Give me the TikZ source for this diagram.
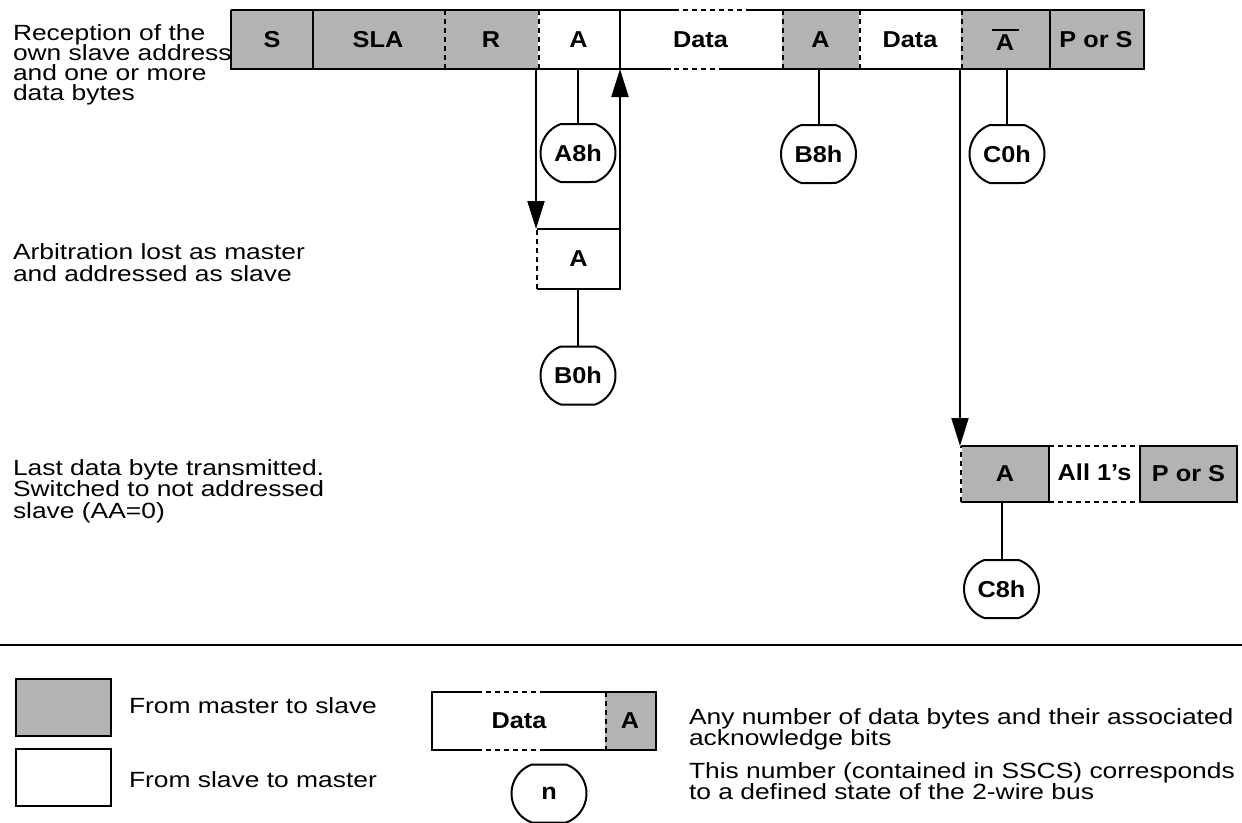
\documentclass[tikz,border=0pt]{standalone}
\usepackage{fontspec}
\setmainfont{Liberation Sans}[FakeStretch=1.2,BoldFeatures={FakeStretch=1.1}]
\usetikzlibrary{arrows.meta,shapes.misc}
\definecolor{boxgray}{RGB}{179,179,179}
\newcommand\myLbl{\fontsize{23}{26}\selectfont\bfseries}
\newcommand\myTxt{\fontsize{22}{20}\selectfont\lineskiplimit=-30pt\relax}
\newcommand\myTxtW{\fontsize{22}{21.5}\selectfont\lineskiplimit=-30pt\relax}
\newcommand\myAbar{\vbox{\hrule width 27pt height 2pt\vskip 3.5pt\hbox to 27pt{\hss A\hss}}}
\begin{document}
\begin{tikzpicture}[x=1pt,y=-1pt,line width=2pt,
  cell/.style={rectangle,inner sep=0pt,minimum height=57pt,font=\myLbl},
  gcell/.style={cell,fill=boxgray},
  stad/.style={rounded rectangle,rounded rectangle arc length=140,draw,minimum width=75pt,minimum height=58pt,inner sep=0pt,font=\myLbl},
  txt/.style={inner sep=0pt,font=\myTxt,anchor=base west},
  dsh/.style={dash pattern=on 5pt off 4pt},
  arr/.style={-{Triangle[length=28pt,width=17pt]}}]
\useasboundingbox (0,0) rectangle (1242,822);

% top row
\node[gcell,minimum width=80pt] (s) at (272,39.5) {S};
\node[gcell,minimum width=132pt] (sla) at (378,39.5) {SLA};
\node[gcell,minimum width=94pt] (r) at (491,39.5) {R};
\node[cell,minimum width=81pt] (a1) at (578.5,39.5) {A};
\node[cell,minimum width=163pt] (d1) at (700.5,39.5) {Data};
\node[gcell,minimum width=77pt] (a2) at (820.5,39.5) {A};
\node[cell,minimum width=102pt] (d2) at (910,39.5) {Data};
\node[gcell,minimum width=88pt] (ab) at (1005,39.5) {\myAbar};
\node[gcell,minimum width=94pt] (ps1) at (1096,39.5) {P or S};

\draw (s.north west) -- ([xshift=56pt]d1.north west);
\draw[dsh] ([xshift=56pt]d1.north west) -- ([xshift=-35pt]d1.north east);
\draw ([xshift=-35pt]d1.north east) -- (ps1.north east) -- (ps1.south east) -- ([xshift=-59pt]d1.south east);
\draw[dsh] ([xshift=-59pt]d1.south east) -- ([xshift=53pt]d1.south west);
\draw ([xshift=53pt]d1.south west) -- (s.south west) -- (s.north west);
\draw (s.north east) -- (s.south east);
\draw (a1.north east) -- (a1.south east);
\draw (ab.north east) -- (ab.south east);
\draw[dsh] (sla.north east) -- (sla.south east);
\draw[dsh] (r.north east) -- (r.south east);
\draw[dsh] (d1.north east) -- (d1.south east);
\draw[dsh] (a2.north east) -- (a2.south east);
\draw[dsh] (d2.north east) -- (d2.south east);

% status bubbles of top row
\node[stad] (e1) at (578,153) {A8h};
\node[stad] (e3) at (818.5,154) {B8h};
\node[stad] (e4) at (1007,154) {C0h};
\draw (e1.north) -- (e1.north |- a1.south);
\draw (e3.north) -- (e3.north |- a2.south);
\draw (e4.north) -- (e4.north |- ab.south);

% arbitration lost
\node[cell,minimum width=81pt,minimum height=58pt] (la) at (578.5,259) {A};
\draw (la.north west) -- (la.north east) -- (la.south east) -- (la.south west);
\draw[dsh] (la.south west) -- (la.north west);
\draw[arr] ([xshift=-1pt]a1.south west) -- ([xshift=-1pt]la.north west);
\draw[arr] (la.south east) -- (a1.south east);
\node[stad] (e2) at (578,375.5) {B0h};
\draw (e2.north) -- (e2.north |- la.south);

% last byte
\node[gcell,minimum width=86pt,minimum height=54pt] (a3) at (1005,474) {A};
\node[cell,minimum width=93pt,minimum height=54pt] (all) at (1094.5,472) {All 1’s};
\node[gcell,minimum width=95pt,minimum height=54pt] (ps2) at (1188.5,474) {P or S};
\draw (a3.north west) -- (a3.north east) -- (a3.south east) -- (a3.south west);
\draw[dsh] (a3.south west) -- (a3.north west);
\draw[dsh] (a3.north east) -- (ps2.north west);
\draw[dsh] (a3.south east) -- (ps2.south west);
\draw (ps2.north west) rectangle (ps2.south east);
\draw[arr] (ab.south west) -- (ab.south west |- a3.north);
\node[stad] (e5) at (1001.5,589) {C8h};
\draw (e5.north) -- (e5.north |- a3.south);

% left descriptions
\node[txt] (l1) at (12,40) {\vtop{\hbox{Reception of the}\hbox{own slave address}\hbox{and one or more}\hbox{data bytes}}};
\node[txt,font=\myTxtW] (l2) at (12,259.5) {\vtop{\hbox{Arbitration lost as master}\hbox{and addressed as slave}}};
\node[txt,font=\myTxtW] (l3) at (12,475) {\vtop{\hbox{Last data byte transmitted.}\hbox{Switched to not addressed}\hbox{slave (AA=0)}}};

% separator
\coordinate (sepL) at (0,645);
\coordinate (sepR) at (1242,645);
\draw (sepL) -- (sepR);

% legend
\node[gcell,draw,minimum width=95pt] (lg1) at (63.5,707.5) {};
\node[cell,draw,minimum width=95pt] (lg2) at (63.5,777.5) {};
\node[txt] (t1) at (128,713) {From master to slave};
\node[txt] (t2) at (128,787) {From slave to master};

\node[cell,minimum width=172pt,minimum height=56pt] (ld) at (519,721) {Data};
\node[gcell,minimum width=50pt,minimum height=56pt] (lda) at (630,721) {A};
\draw ([xshift=45pt]ld.north west) -- (ld.north west) -- (ld.south west) -- ([xshift=45pt]ld.south west);
\draw[dsh] ([xshift=45pt]ld.north west) -- ([xshift=112pt]ld.north west);
\draw[dsh] ([xshift=45pt]ld.south west) -- ([xshift=112pt]ld.south west);
\draw ([xshift=112pt]ld.north west) -- (lda.north east) -- (lda.south east) -- ([xshift=112pt]ld.south west);
\draw[dsh] (ld.north east) -- (ld.south east);
\node[stad] (en) at (549,793.5) {n};

\node[txt,font=\myTxtW] (t3) at (688,724) {\vtop{\hbox{Any number of data bytes and their associated}\hbox{acknowledge bits}}};
\node[txt,font=\myTxtW] (t4) at (688,778) {\vtop{\hbox{This number (contained in SSCS) corresponds}\hbox{to a defined state of the 2-wire bus}}};
\end{tikzpicture}
\end{document}
